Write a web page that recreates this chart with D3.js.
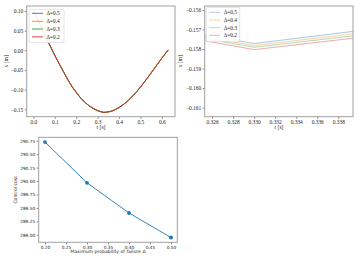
<!DOCTYPE html>
<html>
<head>
<meta charset="utf-8">
<script src="https://cdn.jsdelivr.net/npm/d3@7"></script>
<style>
  body { margin: 0; background: #fff; }
  svg { display: block; }
</style>
</head>
<body>
<div id="fig"></div>
<script>
// trajectory x(t); the four Δ runs overlap at full scale
var tSteps = [0, 0.02, 0.04, 0.06, 0.08, 0.10, 0.12, 0.14, 0.16, 0.18, 0.20, 0.22, 0.24, 0.26, 0.28, 0.30,
              0.36, 0.38, 0.40, 0.42, 0.44, 0.46, 0.48, 0.50, 0.52, 0.54, 0.56, 0.58, 0.60, 0.62, 0.63];
var xCommon = [0.100, 0.077, 0.054, 0.031, 0.009, -0.013, -0.034, -0.054, -0.074, -0.092, -0.107, -0.121, -0.132, -0.141, -0.148, -0.1535,
               -0.1555, -0.1515, -0.1455, -0.138, -0.129, -0.1185, -0.1065, -0.0935, -0.0795, -0.065, -0.050, -0.035, -0.020, -0.006, 0.001];

// samples around the minimum, one list per Δ
var tNearMin = [0.32, 0.33, 0.34];
var deltaLabels = ["Δ=0.5", "Δ=0.4", "Δ=0.3", "Δ=0.2"];
var xNear05 = [-0.15678, -0.15772, -0.15706];
var xNear04 = [-0.15688, -0.15782, -0.15718];
var xNear03 = [-0.15697, -0.15791, -0.15729];
var xNear02 = [-0.15707, -0.15803, -0.15741];
var colors = ["#1f77b4", "#ff7f0e", "#2ca02c", "#d62728"];

// control cost vs Δ
var costDelta = [0.2, 0.3, 0.4, 0.5];
var costValue = [290.725, 289.968, 289.406, 288.95];

// ticks
var tlXTicks = [0, 0.1, 0.2, 0.3, 0.4, 0.5, 0.6];
var tlYTicks = [-0.15, -0.10, -0.05, 0.00, 0.05, 0.10];
var trXTicks = [0.326, 0.328, 0.330, 0.332, 0.334, 0.336, 0.338];
var trYTicks = [-0.161, -0.160, -0.159, -0.158, -0.157, -0.156];
var bXTicks = [0.20, 0.25, 0.30, 0.35, 0.40, 0.45, 0.50];
var bYTicks = [289.00, 289.25, 289.50, 289.75, 290.00, 290.25, 290.50, 290.75];

var serif = "'Liberation Serif', 'DejaVu Serif', serif";
var sans = "'DejaVu Sans', sans-serif";

var series = [xNear05, xNear04, xNear03, xNear02].map(function (near, i) {
    var pts = tSteps.map(function (t, j) { return [t, xCommon[j]]; });
    tNearMin.forEach(function (t, j) { pts.push([t, near[j]]); });
    pts.sort(function (a, b) { return a[0] - b[0]; });
    return { label: deltaLabels[i], color: colors[i], pts: pts };
});

var svg = d3.select("#fig").append("svg")
    .attr("width", 357)
    .attr("height", 257);

var clipId = 0;

function panel(box, xDomain, yDomain, xTicks, yTicks, xFmt, yFmt, font, fsize) {
    var x = d3.scaleLinear().domain(xDomain).range([box.x0, box.x1]);
    var y = d3.scaleLinear().domain(yDomain).range([box.y1, box.y0]);
    var g = svg.append("g");

    var xa = g.append("g")
        .attr("transform", "translate(0," + box.y1 + ")")
        .call(d3.axisBottom(x).tickValues(xTicks).tickFormat(d3.format(xFmt)).tickSize(2).tickPadding(1.5));
    var ya = g.append("g")
        .attr("transform", "translate(" + box.x0 + ",0)")
        .call(d3.axisLeft(y).tickValues(yTicks).tickFormat(d3.format(yFmt)).tickSize(2).tickPadding(1.5));
    [xa, ya].forEach(function (a) {
        a.select(".domain").remove();
        a.selectAll("line").attr("stroke", "#333").attr("stroke-width", 0.6);
        a.selectAll("text").attr("font-family", font).attr("font-size", fsize).attr("fill", "#222");
    });

    var id = "clip" + (clipId++);
    g.append("clipPath").attr("id", id).append("rect")
        .attr("x", box.x0).attr("y", box.y0)
        .attr("width", box.x1 - box.x0).attr("height", box.y1 - box.y0);
    var plot = g.append("g").attr("clip-path", "url(#" + id + ")");

    g.append("rect")
        .attr("x", box.x0).attr("y", box.y0)
        .attr("width", box.x1 - box.x0).attr("height", box.y1 - box.y0)
        .attr("fill", "none").attr("stroke", "#a0a0a0").attr("stroke-width", 1);

    return { x: x, y: y, g: g, plot: plot };
}

function legend(g, lx, ly, w, h, rowY, opacity) {
    g.append("rect")
        .attr("x", lx).attr("y", ly).attr("width", w).attr("height", h)
        .attr("rx", 1.5)
        .attr("fill", "#fff").attr("fill-opacity", 0.9)
        .attr("stroke", "#d0d0d0").attr("stroke-width", 0.6);
    series.forEach(function (s, i) {
        var yy = ly + rowY[i];
        g.append("line")
            .attr("x1", lx + 3).attr("x2", lx + 14)
            .attr("y1", yy).attr("y2", yy)
            .attr("stroke", s.color).attr("stroke-opacity", opacity).attr("stroke-width", 0.9);
        g.append("text")
            .attr("x", lx + 17.5).attr("y", yy + 1.8)
            .attr("font-family", serif).attr("font-size", 5.4).attr("fill", "#222")
            .text(s.label);
    });
}

// top left: full trajectory
var tl = panel({ x0: 26.7, x1: 175, y0: 6, y1: 116.7 }, [-0.0315, 0.6615], [-0.1688, 0.1127],
    tlXTicks, tlYTicks, ".1f", ".2f", serif, 5.4);
var lineTL = d3.line().x(function (d) { return tl.x(d[0]); }).y(function (d) { return tl.y(d[1]); });
series.forEach(function (s) {
    tl.plot.append("path").attr("d", lineTL(s.pts))
        .attr("fill", "none").attr("stroke", s.color).attr("stroke-width", 0.9);
});
legend(tl.g, 29, 9.3, 35, 33.4, [4, 12, 19.7, 27.6], 1);
tl.g.append("text").attr("x", 101).attr("y", 129.3).attr("text-anchor", "middle")
    .attr("font-family", serif).attr("font-size", 5.6).attr("fill", "#222").text("t [s]");
tl.g.append("text").attr("transform", "translate(8.2,61.3) rotate(-90)").attr("text-anchor", "middle")
    .attr("font-family", serif).attr("font-size", 5.6).attr("fill", "#222").text("x [m]");

// top right: zoom on the minimum
var tr = panel({ x0: 204.7, x1: 353, y0: 6, y1: 116.7 }, [0.3253, 0.3394], [-0.16146, -0.1558],
    trXTicks, trYTicks, ".3f", ".3f", serif, 5.4);
var lineTR = d3.line().x(function (d) { return tr.x(d[0]); }).y(function (d) { return tr.y(d[1]); });
series.forEach(function (s) {
    tr.plot.append("path").attr("d", lineTR(s.pts))
        .attr("fill", "none").attr("stroke", s.color).attr("stroke-opacity", 0.4).attr("stroke-width", 1);
});
legend(tr.g, 206.3, 7.3, 33.4, 34.4, [5, 12.7, 20.4, 28], 0.4);
tr.g.append("text").attr("x", 279).attr("y", 129.3).attr("text-anchor", "middle")
    .attr("font-family", serif).attr("font-size", 5.6).attr("fill", "#222").text("t [s]");
tr.g.append("text").attr("transform", "translate(181.5,61.3) rotate(-90)").attr("text-anchor", "middle")
    .attr("font-family", serif).attr("font-size", 5.6).attr("fill", "#222").text("x [m]");

// bottom: control cost
var bp = panel({ x0: 38.7, x1: 177.3, y0: 137.3, y1: 242.3 }, [0.185, 0.515], [288.861, 290.814],
    bXTicks, bYTicks, ".2f", ".2f", sans, 4.3);
var costPts = costDelta.map(function (d, i) { return [d, costValue[i]]; });
bp.plot.append("path")
    .attr("d", d3.line().x(function (d) { return bp.x(d[0]); }).y(function (d) { return bp.y(d[1]); })(costPts))
    .attr("fill", "none").attr("stroke", "#1f77b4").attr("stroke-width", 0.9);
bp.plot.selectAll("circle").data(costPts).enter().append("circle")
    .attr("cx", function (d) { return bp.x(d[0]); })
    .attr("cy", function (d) { return bp.y(d[1]); })
    .attr("r", 1.9).attr("fill", "#1f77b4");
bp.g.append("text").attr("x", 108).attr("y", 253.2).attr("text-anchor", "middle")
    .attr("font-family", sans).attr("font-size", 4.6).attr("fill", "#222").text("Maximum probability of failure Δ");
bp.g.append("text").attr("transform", "translate(17,189.8) rotate(-90)").attr("text-anchor", "middle")
    .attr("font-family", sans).attr("font-size", 4.6).attr("fill", "#222").text("Control cost");
</script>
</body>
</html>
